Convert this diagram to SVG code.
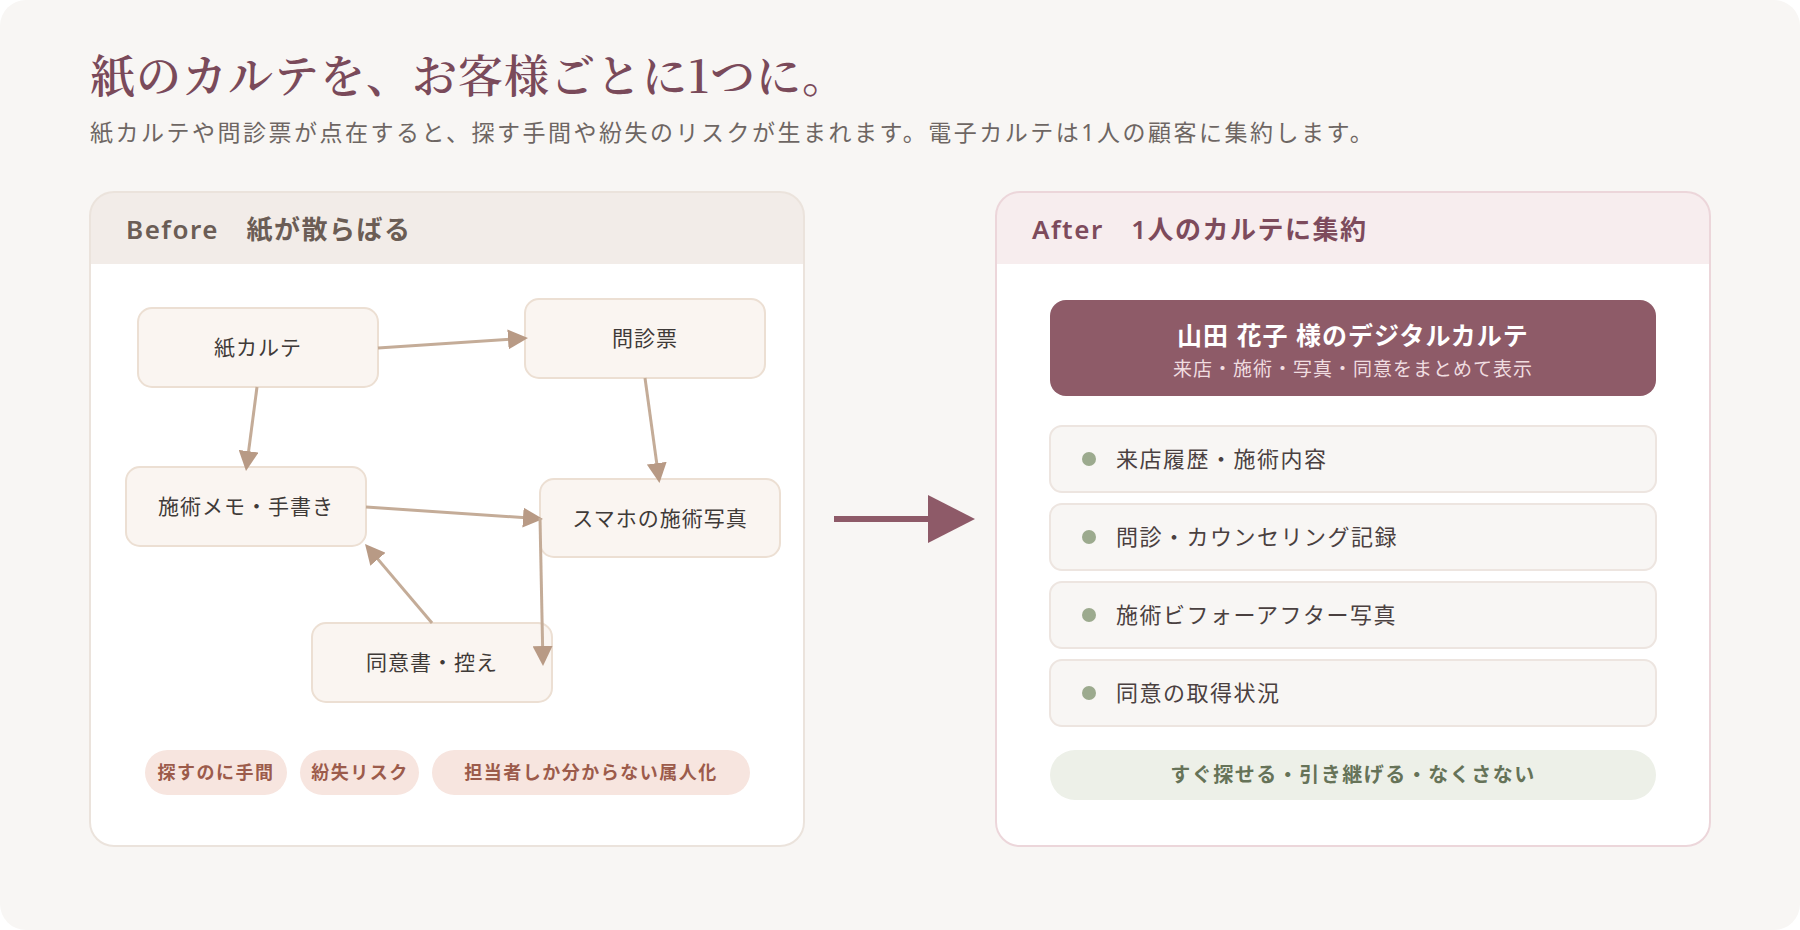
<svg xmlns="http://www.w3.org/2000/svg" width="1800" height="930" viewBox="0 0 1800 930">
<style>
.jp{font-family:"Noto Sans","Noto Sans CJK JP",sans-serif}
.node rect{fill:#faf5f1;stroke:#ecdfd3;stroke-width:2}
.node text{font-size:21px;letter-spacing:1px;fill:#3f3a38;text-anchor:middle}
.edge{stroke:#c4ac98;stroke-width:3;fill:none;marker-end:url(#ah)}
.tag rect{fill:#f7e5df}
.tag text{font-size:18px;font-weight:700;letter-spacing:1.5px;fill:#9c5b4b;text-anchor:middle}
.item rect{fill:#f8f6f4;stroke:#ede5e0;stroke-width:2}
.item circle{fill:#9caa8e}
.item text{font-size:22px;letter-spacing:1.5px;fill:#4a4040}
</style>
<defs>
<marker id="ah" markerUnits="userSpaceOnUse" markerWidth="20" markerHeight="20" refX="10" refY="10" orient="auto">
<path d="M0,0 L20,10 L0,20 Z" fill="#b89a85"/>
</marker>
</defs>
<rect x="0" y="0" width="1800" height="930" fill="#ffffff"/>
<rect x="0" y="0" width="1800" height="930" rx="26" fill="#f8f6f4"/>
<g id="title">
<text x="90" y="93" font-family="'Noto Serif CJK JP','Liberation Serif','Noto Sans CJK JP',serif" font-size="45" font-weight="600" letter-spacing="1" fill="#7a4a5a">紙のカルテを、お客様ごとに1つに。</text>
<text class="jp" x="90" y="141" font-size="23" letter-spacing="2.5" fill="#6e6663">紙カルテや問診票が点在すると、探す手間や紛失のリスクが生まれます。電子カルテは1人の顧客に集約します。</text>
</g>
<g id="before-panel">
<rect x="90" y="192" width="714" height="654" rx="24" fill="#ffffff"/>
<path d="M90,264 V216 A24,24 0 0 1 114,192 H780 A24,24 0 0 1 804,216 V264 Z" fill="#f2ece8"/>
<rect x="90" y="192" width="714" height="654" rx="24" fill="none" stroke="#ebe3dc" stroke-width="2"/>
<text class="jp" x="126" y="239" font-size="26" font-weight="600" letter-spacing="1.5" fill="#6b5d55">Before　紙が散らばる</text>
</g>
<g id="after-panel">
<rect x="996" y="192" width="714" height="654" rx="24" fill="#ffffff"/>
<path d="M996,264 V216 A24,24 0 0 1 1020,192 H1686 A24,24 0 0 1 1710,216 V264 Z" fill="#f7edee"/>
<rect x="996" y="192" width="714" height="654" rx="24" fill="none" stroke="#ecd6da" stroke-width="2"/>
<text class="jp" x="1032" y="239" font-size="26" font-weight="600" letter-spacing="1.5" fill="#7d4b5c">After　1人のカルテに集約</text>
</g>
<g id="n-karte" class="node jp">
<rect x="138" y="308" width="240" height="79" rx="14"/>
<text x="258" y="355">紙カルテ</text>
</g>
<g id="n-monshin" class="node jp">
<rect x="525" y="299" width="240" height="79" rx="14"/>
<text x="645" y="346">問診票</text>
</g>
<g id="n-memo" class="node jp">
<rect x="126" y="467" width="240" height="79" rx="14"/>
<text x="246" y="514">施術メモ・手書き</text>
</g>
<g id="n-photo" class="node jp">
<rect x="540" y="479" width="240" height="78" rx="14"/>
<text x="660" y="526">スマホの施術写真</text>
</g>
<g id="n-consent" class="node jp">
<rect x="312" y="623" width="240" height="79" rx="14"/>
<text x="432" y="670">同意書・控え</text>
</g>
<g id="connectors">
<line class="edge" x1="378" y1="348" x2="518" y2="338.7"/>
<line class="edge" x1="257" y1="387" x2="247.3" y2="461.1"/>
<line class="edge" x1="645" y1="378" x2="658.1" y2="473.1"/>
<line class="edge" x1="366" y1="507" x2="533" y2="518.3"/>
<line class="edge" x1="432" y1="623" x2="371.5" y2="551.6"/>
<line class="edge" x1="540" y1="518" x2="542.8" y2="656"/>
<line x1="834" y1="519" x2="930" y2="519" stroke="#8e5a68" stroke-width="6"/>
<path d="M928,495 L975,519 L928,543 Z" fill="#8e5a68"/>
</g>
<g id="tag1" class="tag jp">
<rect x="145" y="750" width="142" height="45" rx="22.5"/>
<text x="216" y="779">探すのに手間</text>
</g>
<g id="tag2" class="tag jp">
<rect x="300" y="750" width="119" height="45" rx="22.5"/>
<text x="360" y="779">紛失リスク</text>
</g>
<g id="tag3" class="tag jp">
<rect x="432" y="750" width="318" height="45" rx="22.5"/>
<text x="591" y="779">担当者しか分からない属人化</text>
</g>
<g id="card" class="jp">
<rect x="1050" y="300" width="606" height="96" rx="16" fill="#8e5b68"/>
<text x="1353" y="345" font-size="25" font-weight="700" letter-spacing="1" fill="#ffffff" text-anchor="middle">山田 花子 様のデジタルカルテ</text>
<text x="1353" y="376" font-size="19" letter-spacing="1" fill="#f0dde0" text-anchor="middle">来店・施術・写真・同意をまとめて表示</text>
</g>
<g id="item1" class="item jp">
<rect x="1050" y="426" width="606" height="66" rx="12"/>
<circle cx="1089" cy="459" r="7"/>
<text x="1116" y="467">来店履歴・施術内容</text>
</g>
<g id="item2" class="item jp">
<rect x="1050" y="504" width="606" height="66" rx="12"/>
<circle cx="1089" cy="537" r="7"/>
<text x="1116" y="545">問診・カウンセリング記録</text>
</g>
<g id="item3" class="item jp">
<rect x="1050" y="582" width="606" height="66" rx="12"/>
<circle cx="1089" cy="615" r="7"/>
<text x="1116" y="623">施術ビフォーアフター写真</text>
</g>
<g id="item4" class="item jp">
<rect x="1050" y="660" width="606" height="66" rx="12"/>
<circle cx="1089" cy="693" r="7"/>
<text x="1116" y="701">同意の取得状況</text>
</g>
<g id="benefit" class="jp">
<rect x="1050" y="750" width="606" height="50" rx="25" fill="#edf0e8"/>
<text x="1353" y="782" font-size="20" font-weight="700" letter-spacing="1.5" fill="#667358" text-anchor="middle">すぐ探せる・引き継げる・なくさない</text>
</g>
</svg>
